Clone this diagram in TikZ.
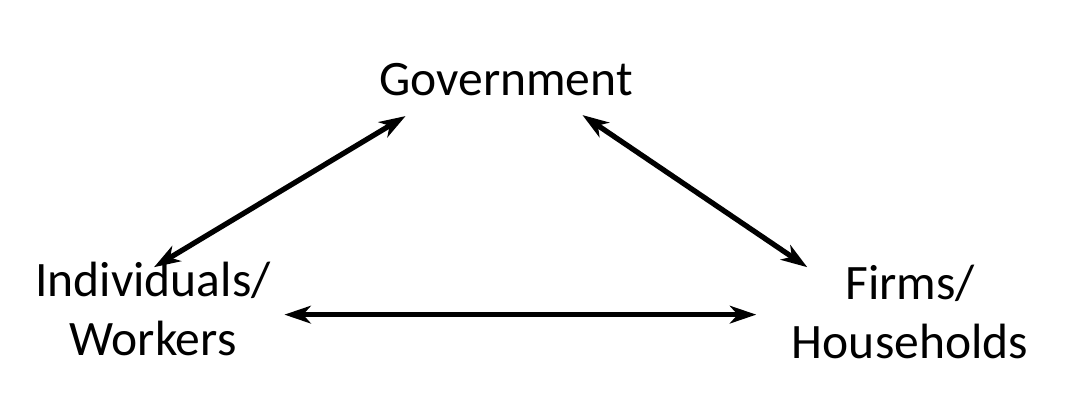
\documentclass[tikz,border=0pt]{standalone}
\usepackage{fontspec}
\setmainfont{Carlito}
\usetikzlibrary{arrows.meta,positioning}
\tikzstyle{lbl}=[inner sep=0pt,align=center,font=\fontsize{14.1}{16.7}\selectfont]
\tikzstyle{link}=[{Stealth[length=7.5pt,width=5pt,inset=2.2pt]}-{Stealth[length=7.5pt,width=5pt,inset=2.2pt]},line width=1.5pt]

\begin{document}
\begin{tikzpicture}
\useasboundingbox (0,0) rectangle (10.66,4.18);
\node[lbl,anchor=base] (gov) at (5.06,3.23) {Government};
\node[lbl,anchor=base] (ind) at (1.53,0.63) {Individuals/\\Workers};
\node[lbl,anchor=base] (firm) at (9.10,0.60) {Firms/\\Households};
\path[link]
([shift={(0.01cm,-0.06cm)}]ind.north) edge ([shift={(0.27cm,-0.20cm)}]gov.south west)
([shift={(-0.51cm,-0.19cm)}]gov.south east) edge ([shift={(0.16cm,-0.03cm)}]firm.north west)
([shift={(0.13cm,-0.06cm)}]ind.east) edge ([shift={(-0.35cm,-0.03cm)}]firm.west);
\end{tikzpicture}
\end{document}
